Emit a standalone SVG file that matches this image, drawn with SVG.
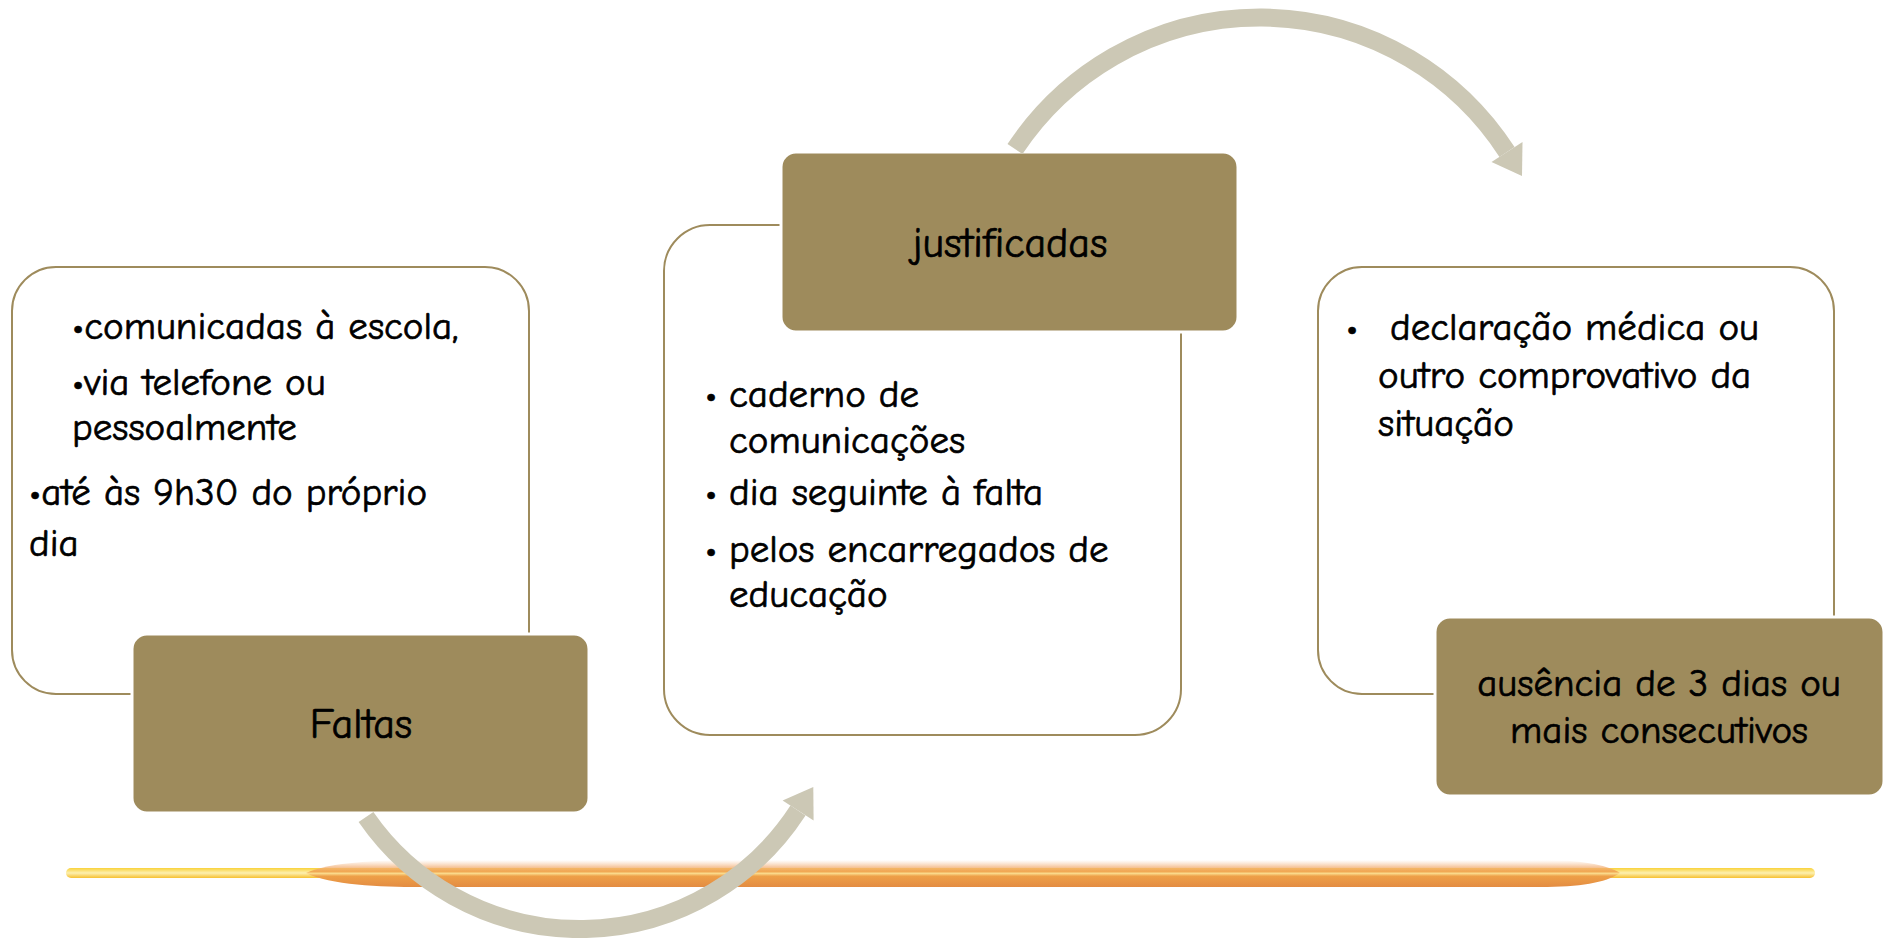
<svg xmlns="http://www.w3.org/2000/svg" width="1884" height="938" viewBox="0 0 1884 938">
<defs>
<style>
.card{fill:#FFFFFF;stroke:#9E8B5C;stroke-width:2}
.tag{fill:#9E8B5C;stroke:#FFFFFF;stroke-width:3}
.t{font-family:'Comic Sans MS','Comic Neue','Noto Sans',sans-serif;font-size:39px;fill:#000000;stroke:#000000;stroke-width:0.7}
.lg{font-size:42px}
.c{text-anchor:middle}
.arc{fill:none;stroke:#CCC8B5;stroke-width:18}
.head{fill:#CCC8B5}
</style>
<linearGradient id="barV" x1="0" y1="0" x2="0" y2="1">
<stop offset="0" stop-color="#F6C49A" stop-opacity="0"/>
<stop offset="0.25" stop-color="#F3B27A" stop-opacity="0.7"/>
<stop offset="0.42" stop-color="#F0A550"/>
<stop offset="0.5" stop-color="#FAD98A"/>
<stop offset="0.6" stop-color="#EEA048"/>
<stop offset="1" stop-color="#E38C42"/>
</linearGradient>
<linearGradient id="thinV" x1="0" y1="0" x2="0" y2="1">
<stop offset="0" stop-color="#F9D23A"/>
<stop offset="0.5" stop-color="#FDF0B0"/>
<stop offset="1" stop-color="#F6C030"/>
</linearGradient>
</defs>

<g id="bar">
<rect x="66" y="868" width="1749" height="10" rx="5" fill="url(#thinV)"/>
<path d="M306 873 C330 862 380 860 420 860 L1540 860 C1580 860 1605 864 1620 873 C1605 883 1580 887 1540 887 L420 887 C380 887 330 885 306 873 Z" fill="url(#barV)"/>
</g>

<g id="node-faltas">
<rect class="card" x="12" y="267" width="517" height="427" rx="44"/>
<rect class="tag" x="132" y="634" width="457" height="179" rx="15"/>
<text class="t lg c" x="361" y="738">Faltas</text>
<text class="t" x="72" y="339">•comunicadas à escola,</text>
<text class="t" x="72" y="395">•via telefone ou</text>
<text class="t" x="72" y="440">pessoalmente</text>
<text class="t" x="29" y="505">•até às 9h30 do próprio</text>
<text class="t" x="29" y="556">dia</text>
</g>

<g id="node-justificadas">
<rect class="card" x="664" y="225" width="517" height="510" rx="46"/>
<rect class="tag" x="781" y="152" width="457" height="180" rx="15"/>
<text class="t lg c" x="1010" y="257">justificadas</text>
<text class="t" x="705" y="407">•</text>
<text class="t" x="729" y="407">caderno de</text>
<text class="t" x="729" y="453">comunicações</text>
<text class="t" x="705" y="505">•</text>
<text class="t" x="729" y="505">dia seguinte à falta</text>
<text class="t" x="705" y="562">•</text>
<text class="t" x="729" y="562">pelos encarregados de</text>
<text class="t" x="729" y="607">educação</text>
</g>

<g id="node-ausencia">
<rect class="card" x="1318" y="267" width="516" height="427" rx="44"/>
<rect class="tag" x="1435" y="617" width="449" height="179" rx="15"/>
<text class="t c" x="1659" y="696">ausência de 3 dias ou</text>
<text class="t c" x="1659" y="743">mais consecutivos</text>
<text class="t" x="1346" y="340">•</text>
<text class="t" x="1390" y="340">declaração médica ou</text>
<text class="t" x="1378" y="388">outro comprovativo da</text>
<text class="t" x="1378" y="436">situação</text>
</g>

<g id="connectors">
<path class="arc" d="M366 817 A260 260 0 0 0 798 810.5"/>
<polygon class="head" points="813.3,787 813.6,820.6 782.6,800.4"/>
<path class="arc" d="M1015 149 A294 294 0 0 1 1507 152"/>
<polygon class="head" points="1522,176 1522.5,142 1491.5,162"/>
</g>
</svg>
